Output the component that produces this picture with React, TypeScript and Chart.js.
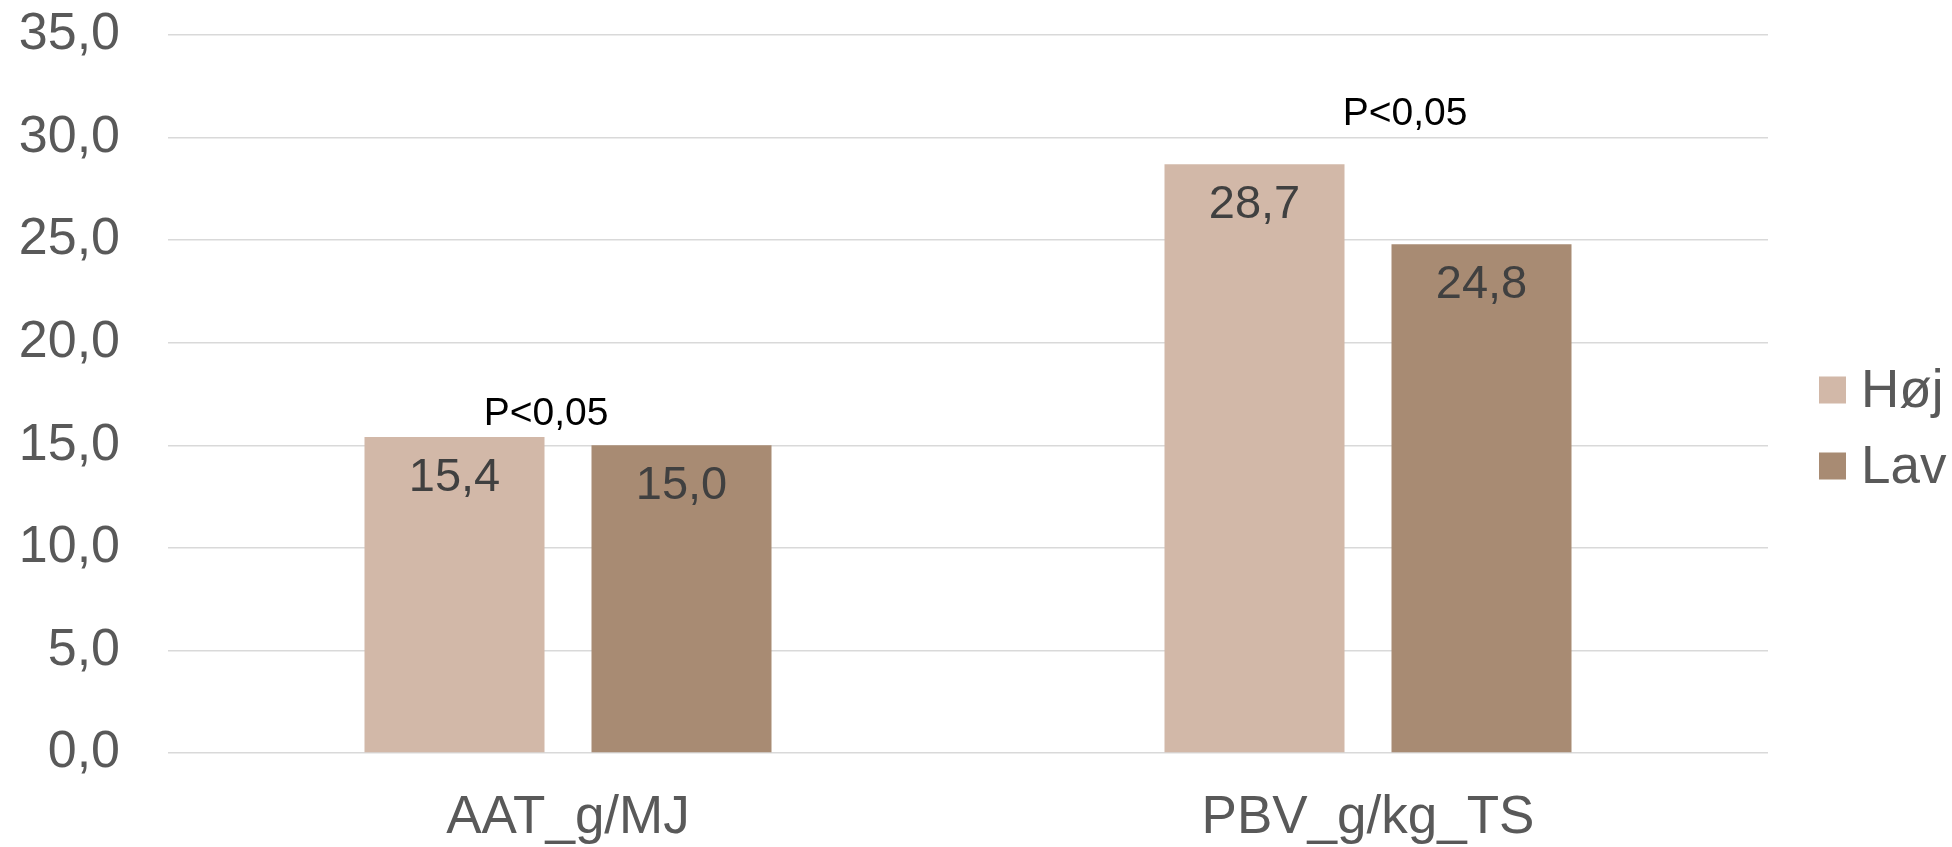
import React, { useEffect, useRef } from "react";
import { Chart, registerables } from "chart.js";

Chart.register(...registerables);

const categories = ["AAT_g/MJ", "PBV_g/kg_TS"];
const seriesNames = ["Høj", "Lav"];
const hojValues = [15.4, 28.7];
const lavValues = [15.0, 24.8];
const seriesColors = ["#d2b8a8", "#a88b73"];
const yTicksMin = 0;
const yTicksMax = 35;
const yTicksStep = 5;
const pLabelTexts = ["P<0,05", "P<0,05"];
const pLabelYValues = [16.5, 31.15];

const FONT = "'Liberation Sans', Arial, sans-serif";
const fmt = (v: number) => v.toFixed(1).replace(".", ",");

const dataLabelPlugin = {
  id: "dataLabels",
  afterDatasetsDraw(chart: any) {
    const ctx = chart.ctx;
    ctx.save();
    ctx.font = `47px ${FONT}`;
    ctx.fillStyle = "#404040";
    ctx.textAlign = "center";
    ctx.textBaseline = "middle";
    chart.data.datasets.forEach((ds: any, di: number) => {
      const meta = chart.getDatasetMeta(di);
      meta.data.forEach((el: any, i: number) => {
        ctx.fillText(fmt(ds.data[i]), el.x, el.y + 41);
      });
    });
    ctx.restore();
  },
};

const pLabelPlugin = {
  id: "pLabels",
  afterDatasetsDraw(chart: any) {
    const ctx = chart.ctx;
    const xs = chart.scales.x;
    const ys = chart.scales.y;
    const offsets = [-22, 37];
    ctx.save();
    ctx.font = `39px ${FONT}`;
    ctx.fillStyle = "#000000";
    ctx.textAlign = "center";
    ctx.textBaseline = "middle";
    pLabelTexts.forEach((t, i) => {
      ctx.fillText(t, xs.getPixelForValue(i) + offsets[i], ys.getPixelForValue(pLabelYValues[i]));
    });
    ctx.restore();
  },
};

const legendPlugin = {
  id: "customLegend",
  afterDraw(chart: any) {
    const ctx = chart.ctx;
    const rowsY = [390, 466];
    ctx.save();
    ctx.font = `53px ${FONT}`;
    ctx.textAlign = "left";
    ctx.textBaseline = "middle";
    seriesNames.forEach((name, i) => {
      ctx.fillStyle = seriesColors[i];
      ctx.fillRect(1819, rowsY[i] - 13.5, 27, 27);
      ctx.fillStyle = "#595959";
      ctx.fillText(name, 1861, rowsY[i] + 2);
    });
    ctx.restore();
  },
};

export default function App() {
  const ref = useRef<HTMLCanvasElement | null>(null);
  useEffect(() => {
    if (!ref.current) return;
    const chart = new Chart(ref.current, {
      type: "bar",
      data: {
        labels: categories,
        datasets: [
          {
            label: seriesNames[0],
            data: hojValues,
            backgroundColor: seriesColors[0],
            categoryPercentage: 0.5675,
            barPercentage: 0.793,
          },
          {
            label: seriesNames[1],
            data: lavValues,
            backgroundColor: seriesColors[1],
            categoryPercentage: 0.5675,
            barPercentage: 0.793,
          },
        ],
      },
      options: {
        animation: false,
        responsive: true,
        maintainAspectRatio: false,
        layout: { padding: { left: 0, right: 184, top: 35, bottom: 0 } },
        plugins: {
          legend: { display: false },
          tooltip: { enabled: false },
        },
        scales: {
          x: {
            grid: { display: false, drawTicks: false },
            border: { display: false },
            ticks: {
              font: { family: FONT, size: 53 },
              color: "#595959",
              padding: 34,
              maxRotation: 0,
            },
            afterFit(scale: any) {
              scale.height = 94;
              scale.paddingLeft = 0;
              scale.paddingRight = 0;
            },
          },
          y: {
            min: yTicksMin,
            max: yTicksMax,
            grid: { color: "#d9d9d9", lineWidth: 1.5, drawTicks: false },
            border: { display: false },
            ticks: {
              stepSize: yTicksStep,
              font: { family: FONT, size: 52 },
              color: "#595959",
              padding: 48,
              callback: (v: any) => fmt(Number(v)),
            },
            afterFit(scale: any) {
              scale.width = 168;
              scale.paddingTop = 0;
              scale.paddingBottom = 0;
            },
          },
        },
      },
      plugins: [dataLabelPlugin, pLabelPlugin, legendPlugin],
    });
    return () => chart.destroy();
  }, []);
  return (
    <div style={{ position: "absolute", left: 0, top: 0, width: 1952, height: 847, background: "#fff" }}>
      <canvas ref={ref} />
    </div>
  );
}
